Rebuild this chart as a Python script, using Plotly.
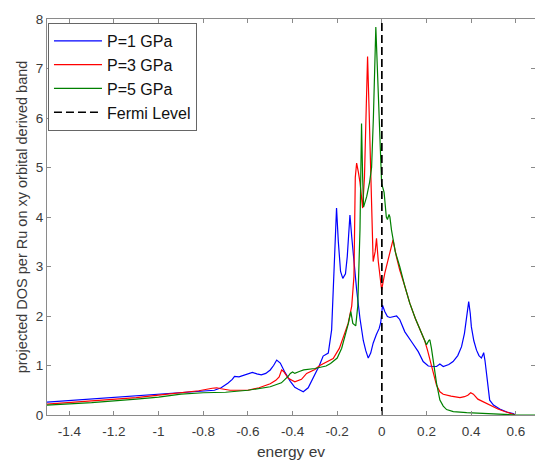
import plotly.graph_objects as go

# ---------------- data ----------------
e_p1 = [-1.5, -1.3, -1.1, -1.0, -0.9, -0.8, -0.75, -0.72, -0.69, -0.67, -0.66, -0.64, -0.62, -0.58,
        -0.56, -0.54, -0.52, -0.5, -0.485, -0.471, -0.455, -0.434, -0.41, -0.39, -0.374, -0.352,
        -0.33, -0.3, -0.28, -0.263, -0.24, -0.225, -0.213, -0.203, -0.195, -0.185, -0.175, -0.163,
        -0.155, -0.143, -0.135, -0.128, -0.113, -0.098, -0.083, -0.072, -0.061, -0.05, -0.039,
        -0.025, -0.012, -0.005, 0.003, 0.013, 0.025, 0.036, 0.05, 0.066, 0.08, 0.103, 0.133, 0.163,
        0.185, 0.208, 0.23, 0.245, 0.26, 0.275, 0.3, 0.319, 0.34, 0.357, 0.37, 0.379, 0.389, 0.396,
        0.401, 0.412, 0.424, 0.435, 0.446, 0.451, 0.456, 0.462, 0.471, 0.483, 0.5, 0.528, 0.56,
        0.588, 0.6]
dos_p1 = [0.26, 0.32, 0.38, 0.41, 0.44, 0.47, 0.50, 0.55, 0.64, 0.72, 0.78, 0.77, 0.80, 0.86,
          0.83, 0.81, 0.84, 0.91, 1.00, 1.11, 1.05, 0.86, 0.68, 0.56, 0.52, 0.47,
          0.55, 0.82, 1.0, 1.19, 1.25, 1.72, 3.0, 4.18, 3.5, 2.9, 2.76, 2.85,
          3.2, 4.04, 3.6, 3.2, 2.53, 1.95, 1.5, 1.3, 1.15, 1.25, 1.45,
          1.62, 1.75, 1.87, 2.22, 2.09, 1.99, 1.97, 1.99, 2.0, 1.93, 1.68, 1.48, 1.28,
          1.08, 0.99, 0.98, 0.98, 1.03, 0.98, 1.02, 1.08, 1.2, 1.38, 1.65, 1.99, 2.29, 2.05,
          1.78, 1.5, 1.31, 1.2, 1.15, 1.2, 1.26, 1.1, 0.71, 0.30, 0.2, 0.12, 0.06,
          0.03, 0.0]

e_p3 = [-1.5, -1.3, -1.1, -1.0, -0.9, -0.82, -0.76, -0.74, -0.72, -0.68, -0.6, -0.55, -0.5,
        -0.475, -0.46, -0.449, -0.44, -0.419, -0.39, -0.36, -0.337, -0.3, -0.278, -0.25, -0.218,
        -0.19, -0.173, -0.151, -0.135, -0.125, -0.119, -0.113, -0.105, -0.098, -0.086, -0.078,
        -0.07, -0.064, -0.058, -0.054, -0.046, -0.039, -0.03, -0.024, -0.016, -0.008, -0.001,
        0.013, 0.036, 0.05, 0.065, 0.08, 0.103, 0.125, 0.15, 0.17, 0.192, 0.205, 0.215, 0.23,
        0.245, 0.26, 0.275, 0.31, 0.35, 0.37, 0.385, 0.398, 0.41, 0.43, 0.46, 0.49, 0.52, 0.55,
        0.58, 0.6]
dos_p3 = [0.22, 0.28, 0.35, 0.40, 0.45, 0.49, 0.54, 0.55, 0.53, 0.50, 0.50, 0.55, 0.63,
          0.7, 0.77, 0.91, 0.88, 0.74, 0.67, 0.72, 0.84, 0.92, 1.0, 1.06, 1.14,
          1.35, 1.58, 1.85, 2.2, 2.8, 4.8, 5.09, 4.9, 4.7, 4.18, 4.8,
          6.2, 7.24, 6.3, 5.69, 4.0, 3.1, 3.3, 3.57, 3.1, 2.8, 2.53,
          2.86, 3.27, 3.54, 3.2, 2.93, 2.6, 2.26, 1.95, 1.75, 1.5, 1.3, 1.13, 0.85,
          0.6, 0.47, 0.42, 0.38, 0.35, 0.37, 0.4, 0.45, 0.42, 0.32, 0.25, 0.18, 0.12, 0.07,
          0.02, 0.0]

e_p5 = [-1.5, -1.3, -1.1, -1.0, -0.9, -0.8, -0.7, -0.6, -0.5, -0.45, -0.42, -0.41, -0.4, -0.39,
        -0.37, -0.35, -0.3, -0.25, -0.23, -0.2, -0.18, -0.166, -0.15, -0.139, -0.13, -0.117,
        -0.108, -0.098, -0.091, -0.086, -0.082, -0.068, -0.055, -0.046, -0.038, -0.027, -0.018,
        -0.009, -0.001, 0.01, 0.02, 0.025, 0.032, 0.036, 0.043, 0.06, 0.08, 0.103, 0.125, 0.15,
        0.17, 0.192, 0.2, 0.21, 0.215, 0.222, 0.23, 0.245, 0.26, 0.275, 0.29, 0.32, 0.38, 0.45,
        0.53, 0.6, 0.7]
dos_p5 = [0.20, 0.25, 0.32, 0.36, 0.42, 0.45, 0.46, 0.50, 0.57, 0.65, 0.78, 0.84, 0.87, 0.84,
          0.88, 0.91, 0.94, 0.99, 1.04, 1.15, 1.35, 1.58, 1.85, 2.09, 1.85, 1.8,
          2.2, 3.74, 5.89, 4.8, 4.2, 4.41, 4.7, 5.0, 6.0, 7.84, 6.8,
          5.69, 4.68, 4.5, 4.0, 3.95, 4.05, 4.0, 3.74, 3.3, 3.0, 2.6, 2.26, 1.95,
          1.75, 1.5, 1.42, 1.5, 1.52, 1.35, 1.11, 0.64, 0.30, 0.18, 0.11, 0.07, 0.05, 0.03,
          0.01, 0.0, 0.0]

fermi_e = [0, 0]
fermi_dos = [0, 8]

series_names = ["P=1 GPa", "P=3 GPa", "P=5 GPa", "Fermi Level"]

x_tick_vals = [-1.4, -1.2, -1.0, -0.8, -0.6, -0.4, -0.2, 0, 0.2, 0.4, 0.6]
x_tick_text = ["-1.4", "-1.2", "-1", "-0.8", "-0.6", "-0.4", "-0.2", "0", "0.2", "0.4", "0.6"]
y_tick_vals = [0, 1, 2, 3, 4, 5, 6, 7, 8]
y_tick_text = ["0", "1", "2", "3", "4", "5", "6", "7", "8"]

# ---------------- figure ----------------
FONT = "Liberation Sans, Arial, sans-serif"
TXT = "#3a3a3a"
AX = "#8a8a8a"

fig = go.Figure()
fig.add_trace(go.Scatter(x=e_p1, y=dos_p1, mode="lines", name=series_names[0],
                         line=dict(color="#0000ff", width=1.2)))
fig.add_trace(go.Scatter(x=e_p3, y=dos_p3, mode="lines", name=series_names[1],
                         line=dict(color="#ff0000", width=1.2)))
fig.add_trace(go.Scatter(x=e_p5, y=dos_p5, mode="lines", name=series_names[2],
                         line=dict(color="#008000", width=1.2)))
fig.add_trace(go.Scatter(x=fermi_e, y=fermi_dos, mode="lines", name=series_names[3],
                         line=dict(color="#000000", width=1.7, dash="8px,4px")))

fig.update_layout(
    width=535, height=460,
    margin=dict(l=47, r=0, t=19, b=45),
    paper_bgcolor="white", plot_bgcolor="white",
    font=dict(family=FONT, size=13, color=TXT),
    showlegend=True,
    legend=dict(x=0.002, y=0.99, xanchor="left", yanchor="top",
                bgcolor="white", bordercolor="#666666", borderwidth=1,
                font=dict(family=FONT, size=16, color="#111111"),
                itemwidth=48, tracegroupgap=0),
    xaxis=dict(range=[-1.5, 0.686], tickmode="array", tickvals=x_tick_vals, ticktext=x_tick_text,
               ticks="inside", ticklen=4, tickcolor=AX, showline=True, linecolor=AX, linewidth=1,
               mirror="ticks", showgrid=False, zeroline=False, ticklabelstandoff=4,
               tickfont=dict(size=13.5, color=TXT),
               title=dict(text="energy ev", font=dict(size=15.5, color=TXT), standoff=9)),
    yaxis=dict(range=[0, 8], tickmode="array", tickvals=y_tick_vals, ticktext=y_tick_text,
               ticks="inside", ticklen=4, tickcolor=AX, showline=True, linecolor=AX, linewidth=1,
               mirror="ticks", showgrid=False, zeroline=False,
               tickfont=dict(size=13.5, color=TXT),
               title=dict(text="projected DOS per Ru on xy orbital derived band",
                          font=dict(size=14.5, color=TXT), standoff=4)),
)

fig.write_html("out.html")
